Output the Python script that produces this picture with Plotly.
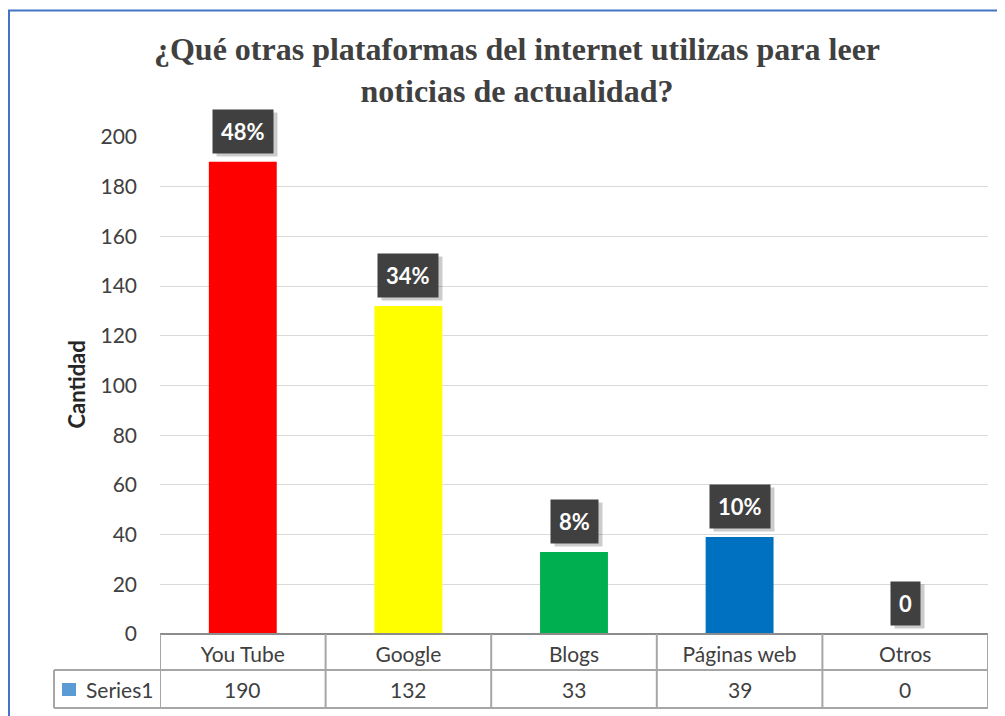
import plotly.graph_objects as go

categories = ["You Tube", "Google", "Blogs", "Páginas web", "Otros"]
values = [190, 132, 33, 39, 0]
percent_labels = ["48%", "34%", "8%", "10%", "0"]
bar_colors = ["#FF0000", "#FFFF00", "#00B050", "#0070C0", "#7F7F7F"]
series_name = "Series1"
y_ticks = [0, 20, 40, 60, 80, 100, 120, 140, 160, 180, 200]

OFF = 8  # page body margin
W, H = 1005 - OFF, 716 - OFF
L, R, T, B = 160 - OFF, 988 - OFF, 137 - OFF, 634 - OFF  # plot area (figure pixels)
FONT = "Lato, Noto Sans, sans-serif"


def px(xs):  # screen pixel -> paper
    return (xs - OFF - L) / (R - L)


def py(ys):
    return (B - (ys - OFF)) / (B - T)


fig = go.Figure()
fig.add_trace(go.Bar(x=categories, y=values, marker=dict(color=bar_colors, line=dict(width=0)),
                     showlegend=False, hoverinfo="x+y"))

annotations = []
for c, v, lab in zip(categories, values, percent_labels):
    annotations.append(dict(x=c, y=v, xref="x", yref="y", text="<b>%s</b>" % lab, showarrow=False,
                            yanchor="bottom", yshift=5, xshift=4,
                            font=dict(family=FONT, size=22, color="rgba(0,0,0,0)"),
                            bgcolor="rgba(0,0,0,0.2)", borderpad=8))
    annotations.append(dict(x=c, y=v, xref="x", yref="y", text="<b>%s</b>" % lab, showarrow=False,
                            yanchor="bottom", yshift=8,
                            font=dict(family=FONT, size=22, color="#FFFFFF"),
                            bgcolor="#404040", borderpad=8))
    annotations.append(dict(x=c, y=py(689), xref="x", yref="paper", text=str(v), showarrow=False,
                            yanchor="middle",
                            font=dict(family=FONT, size=21, color="#404040")))

annotations.append(dict(x=px(119), y=py(689), xref="paper", yref="paper", text=series_name, showarrow=False,
                        yanchor="middle", xanchor="center",
                        font=dict(family=FONT, size=21, color="#404040")))
annotations.append(dict(x=px(60), y=py(385), xref="paper", yref="paper", text="<b>Cantidad</b>",
                        showarrow=False, textangle=-90,
                        font=dict(family=FONT, size=22, color="#262626")))

shapes = []
grid = "#A6A6A6"
shapes.append(dict(type="line", xref="paper", yref="paper", x0=0, x1=1, y0=py(634), y1=py(634),
                   line=dict(color="#8C8C8C", width=2)))
shapes.append(dict(type="line", xref="paper", yref="paper", x0=px(54), x1=1, y0=py(670), y1=py(670),
                   line=dict(color=grid, width=2)))
shapes.append(dict(type="line", xref="paper", yref="paper", x0=px(54), x1=1, y0=py(708), y1=py(708),
                   line=dict(color=grid, width=2)))
for i in range(len(categories) + 1):
    shapes.append(dict(type="line", xref="x", yref="paper", x0=i - 0.5, x1=i - 0.5, y0=py(634), y1=py(708),
                       line=dict(color=grid, width=2)))
shapes.append(dict(type="line", xref="paper", yref="paper", x0=px(54), x1=px(54), y0=py(670), y1=py(708),
                   line=dict(color=grid, width=2)))
shapes.append(dict(type="rect", xref="paper", yref="paper", x0=px(62), x1=px(76), y0=py(696), y1=py(683),
                   fillcolor="#5B9BD5", line=dict(width=0)))
shapes.append(dict(type="rect", xref="paper", yref="paper", x0=px(9), x1=px(1012), y0=py(730), y1=py(10.5),
                   fillcolor="rgba(0,0,0,0)", line=dict(color="#4472C4", width=2)))

fig.update_layout(
    width=W, height=H,
    margin=dict(l=L, r=W - R, t=T, b=H - B, autoexpand=False),
    paper_bgcolor="#FFFFFF", plot_bgcolor="#FFFFFF",
    bargap=0.59,
    title=dict(text="<b>¿Qué otras plataformas del internet utilizas para leer<br>noticias de actualidad?</b>",
               x=(517 - OFF) / W, xanchor="center", xref="container", y=1 - (60 - OFF) / H, yanchor="top",
               font=dict(family="Liberation Serif, Times New Roman, serif", size=32, color="#404040")),
    xaxis=dict(showgrid=False, showline=False, zeroline=False, ticks="",
               tickfont=dict(family=FONT, size=21, color="#404040"),
               ticklabelstandoff=6, range=[-0.5, 4.5]),
    yaxis=dict(range=[0, 200], tickvals=y_ticks, showgrid=True, gridcolor="#D9D9D9", gridwidth=1,
               zeroline=False, showline=False, ticks="",
               tickfont=dict(family=FONT, size=21, color="#404040"),
               ticklabelstandoff=22),
    annotations=annotations, shapes=shapes,
)

fig.write_html("out.html")
